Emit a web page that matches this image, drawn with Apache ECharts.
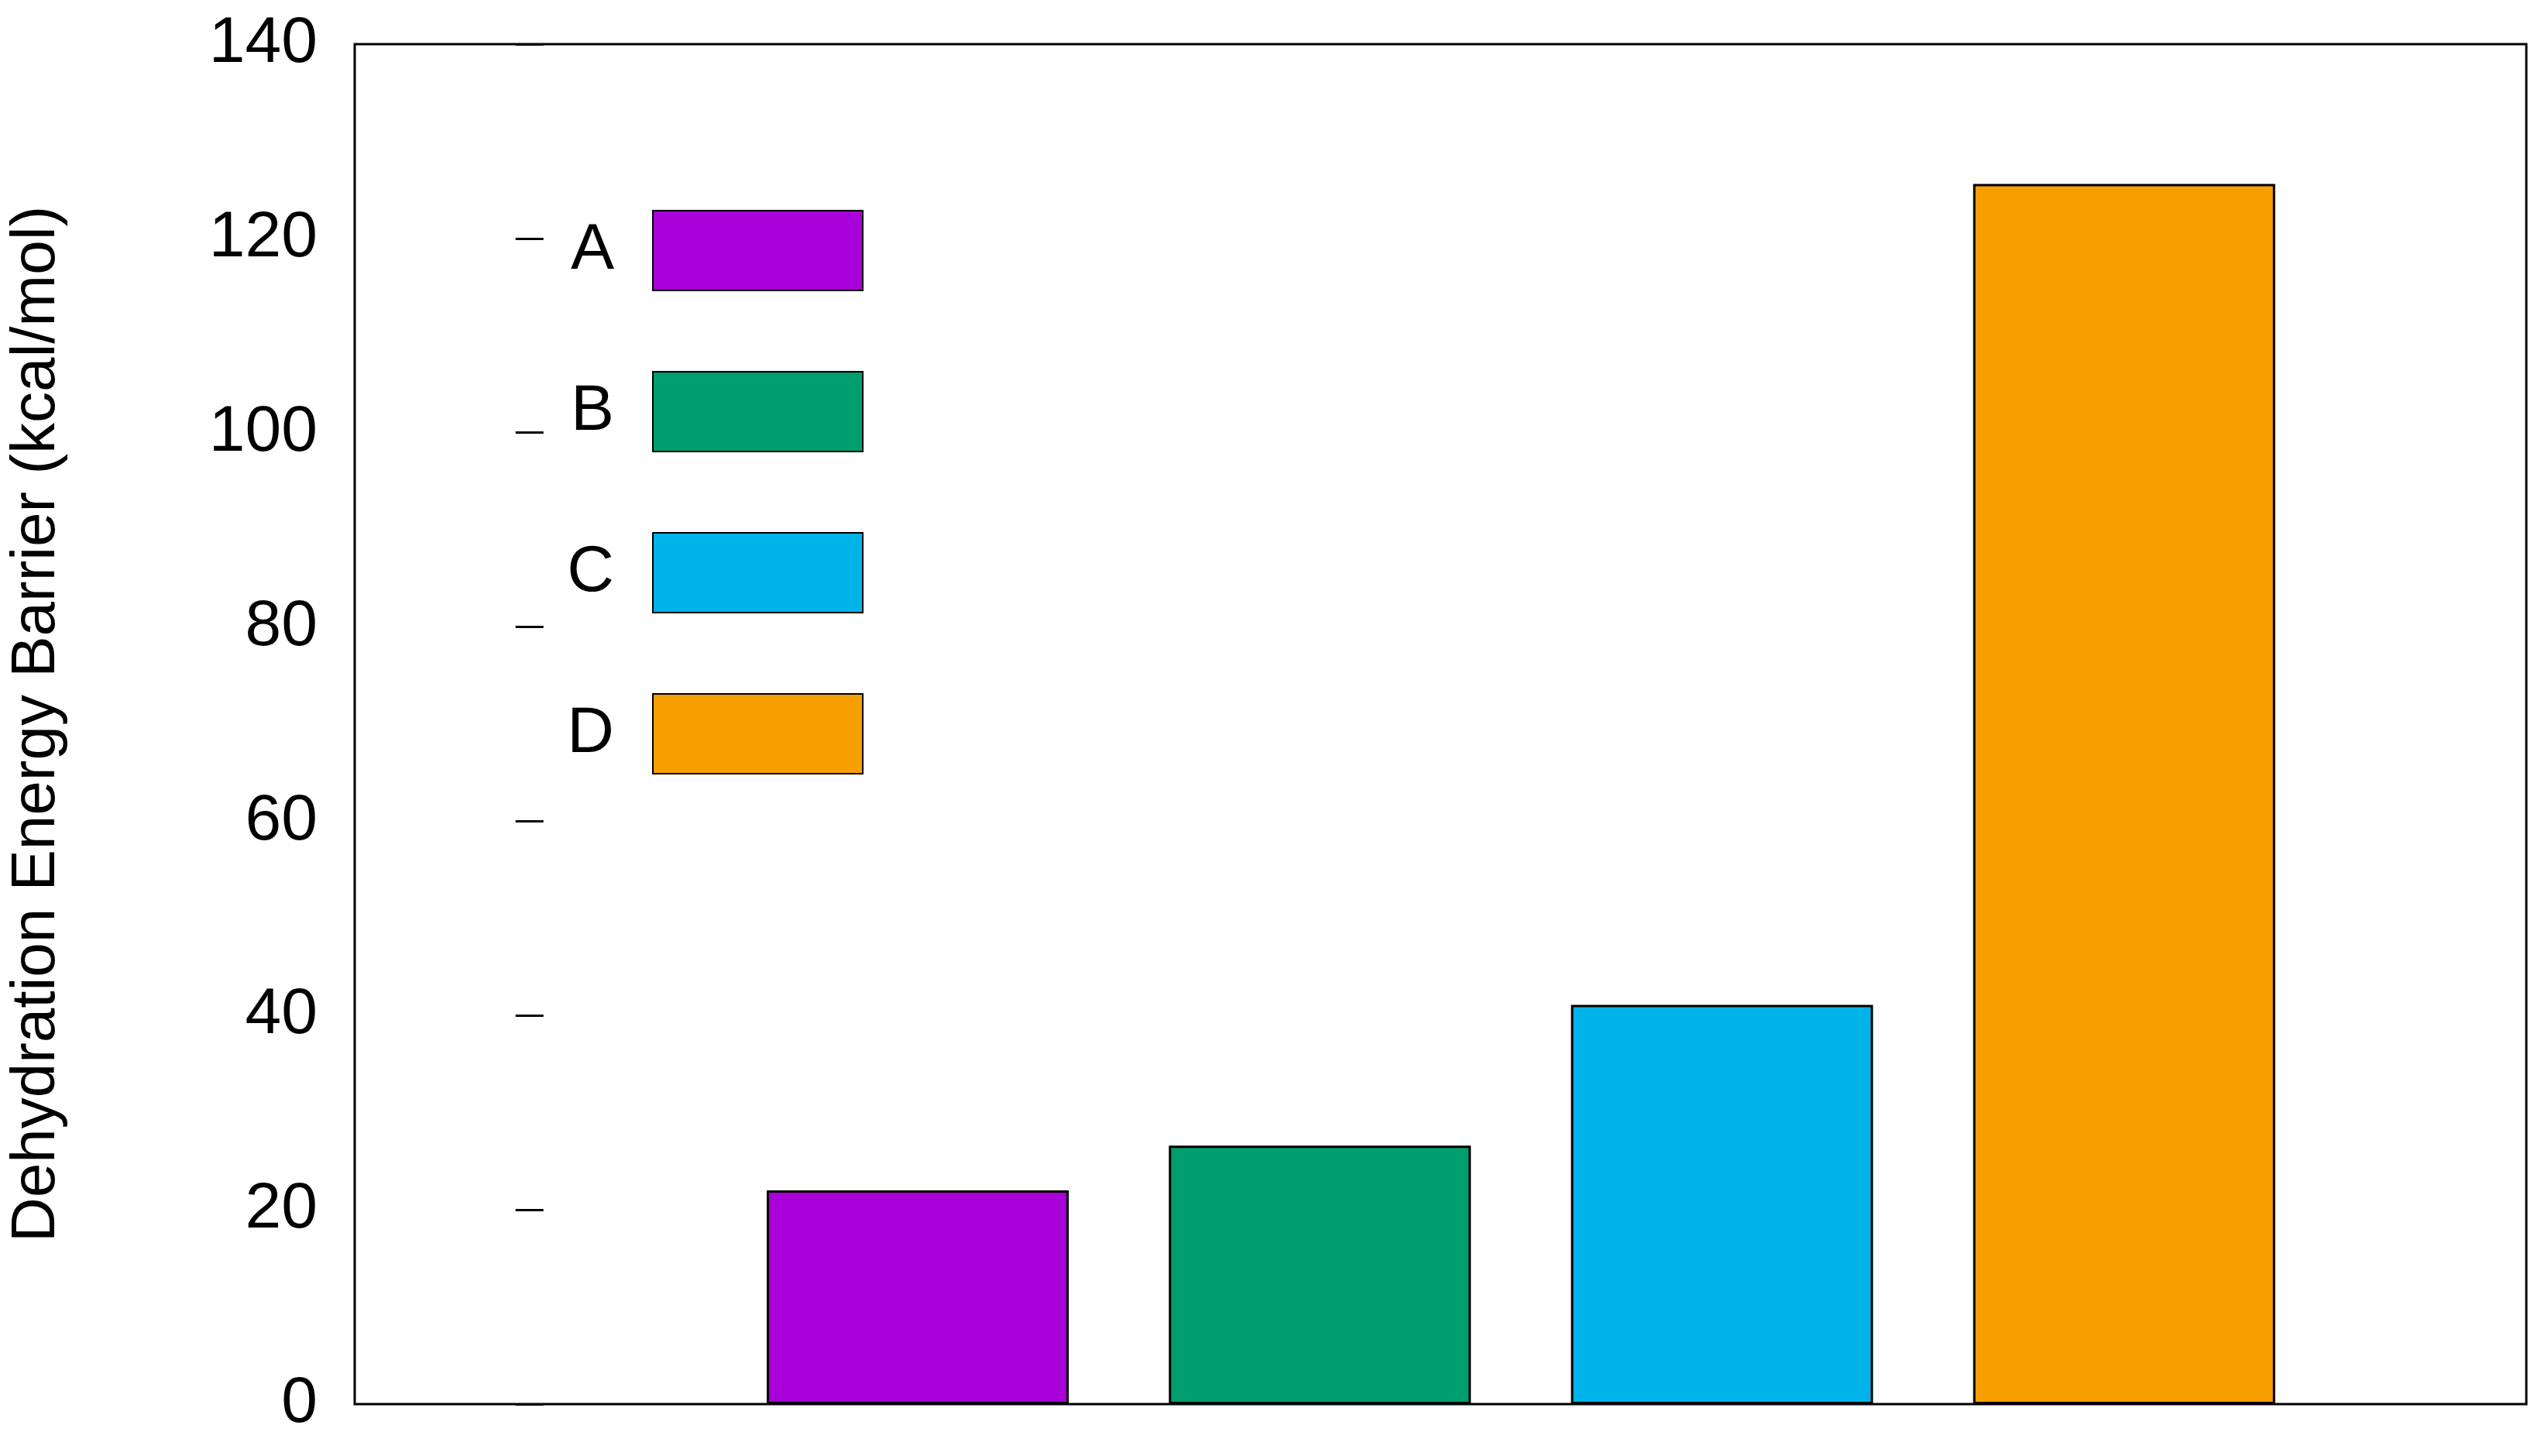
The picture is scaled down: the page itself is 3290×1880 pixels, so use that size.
<!DOCTYPE html>
<html lang="en">
<head>
<meta charset="UTF-8">
<title>Dehydration Energy Barrier</title>
<script src="https://cdn.jsdelivr.net/npm/echarts@6/dist/echarts.min.js"></script>
</head>
<body style="margin:0;background:#fff">
<div id="chart" style="width:3290px;height:1880px"></div>
<script>
    var names = ['A', 'B', 'C', 'D'];
    var positions = [1, 2, 3, 4];
    var values = [22, 26.6, 41.1, 125.6];
    var colors = ['#a800d8', '#009e6e', '#00b4ea', '#f79f00'];

    var chart = echarts.init(document.getElementById('chart'));
    var font = 'Liberation Sans, Arial, sans-serif';

    var series = names.map(function (n, i) {
        return {
            name: n,
            type: 'bar',
            stack: 'all',
            barWidth: 390,
            itemStyle: {color: colors[i], borderColor: '#000', borderWidth: 3},
            data: [[positions[i], values[i]]]
        };
    });

    chart.setOption({
        animation: false,
        grid: {left: 447, right: 28, top: 57, bottom: 67, show: true, borderColor: '#000', borderWidth: 3},
        legend: {
            orient: 'vertical',
            align: 'right',
            right: 2170,
            top: 266,
            itemWidth: 271,
            itemHeight: 103,
            itemGap: 103,
            icon: 'rect',
            selectedMode: false,
            textStyle: {fontFamily: font, fontSize: 84, color: '#000', padding: [0, 45, 0, 0]},
            data: names
        },
        xAxis: {
            type: 'value', min: -0.4, max: 5,
            axisLine: {show: false}, axisTick: {show: false},
            axisLabel: {show: false}, splitLine: {show: false}
        },
        yAxis: {
            type: 'value', min: 0, max: 140, interval: 20,
            name: 'Dehydration Energy Barrier (kcal/mol)',
            nameLocation: 'middle',
            nameGap: 370,
            nameTextStyle: {fontFamily: font, fontSize: 80, color: '#000'},
            axisLine: {show: false},
            axisTick: {inside: true, length: 36, lineStyle: {color: '#000', width: 3}},
            axisLabel: {fontFamily: font, fontSize: 84, color: '#000', margin: 48},
            splitLine: {show: false}
        },
        series: series
    });
</script>
</body>
</html>
